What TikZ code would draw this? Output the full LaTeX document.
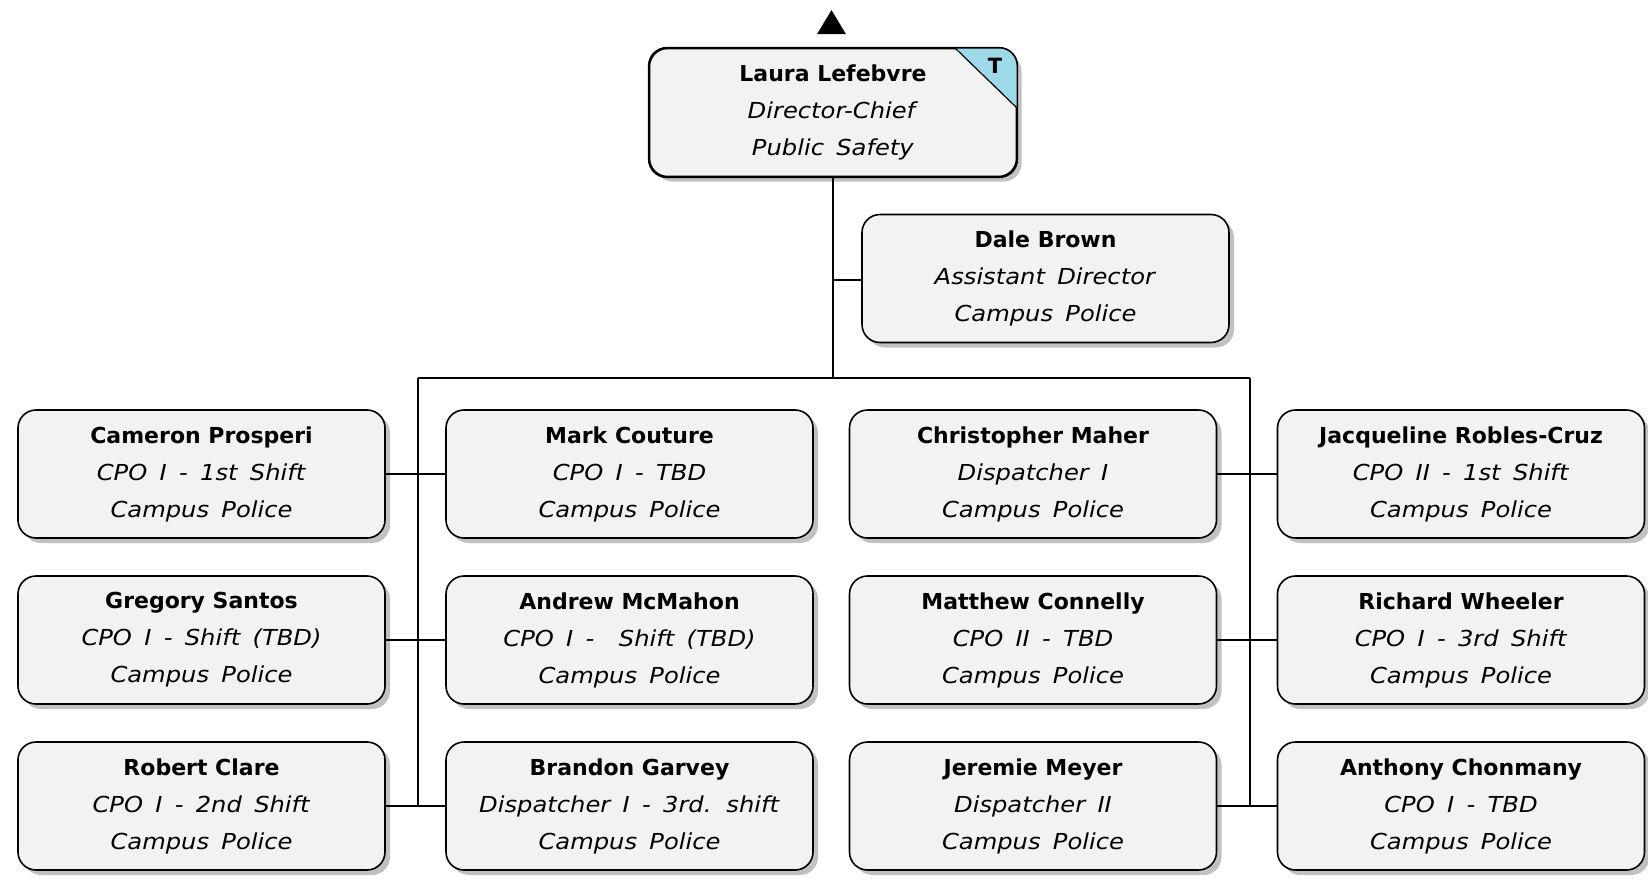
\documentclass[tikz,border=0pt]{standalone}
\usepackage{fontspec}
\setmainfont{DejaVu Sans}[ItalicFeatures={FakeStretch=1.1, WordSpace=1.6}]
\usetikzlibrary{shadows,shapes.geometric}
\definecolor{boxfill}{HTML}{F2F2F2}
\definecolor{tagblue}{HTML}{9ED9EA}
\tikzset{
  person/.style={draw=black, line width=1.6pt, fill=boxfill, rounded corners=18pt,
    minimum width=367pt, minimum height=128pt, inner sep=0pt, align=center,
    font=\fontsize{22}{37}\selectfont,
    drop shadow={shadow xshift=5pt, shadow yshift=-5pt, fill=black!35, opacity=0.7}},
  link/.style={line width=1.5pt, draw=black}
}
\newcommand{\entry}[3]{\textbf{#1}\\\textit{#2}\\\textit{#3}}
\begin{document}
\begin{tikzpicture}[x=1pt,y=-1pt]
\useasboundingbox (0,0) rectangle (1648,879);

% director
\node[person] (laura) at (833,112.5) {\entry{Laura Lefebvre}{Director-Chief}{Public Safety}};
\begin{scope}
  \clip[rounded corners=18pt] (laura.south west) rectangle (laura.north east);
  \fill[tagblue] (955,48) -- (1017,48) -- (1017,108) -- cycle;
\end{scope}
\draw[line width=1.2pt] (955,48) -- (1017,108);
\draw[line width=1.6pt, rounded corners=18pt] (laura.south west) rectangle (laura.north east);
\node[font=\fontsize{21}{21}\selectfont\bfseries] (tag) at (995,66) {T};
\node[fill=black, isosceles triangle, isosceles triangle apex angle=62, shape border rotate=90,
  inner sep=0pt, minimum width=29pt, minimum height=24pt] (up) at (831.5,26) {};

% assistant director
\node[person] (dale) at (1045.5,278.5) {\entry{Dale Brown}{Assistant Director}{Campus Police}};

% staff grid
\node[person] (p11) at (201.5,474) {\entry{Cameron Prosperi}{CPO I - 1st Shift}{Campus Police}};
\node[person] (p21) at (201.5,640) {\entry{Gregory Santos}{CPO I - Shift (TBD)}{Campus Police}};
\node[person] (p31) at (201.5,806) {\entry{Robert Clare}{CPO I - 2nd Shift}{Campus Police}};

\node[person] (p12) at (629.5,474) {\entry{Mark Couture}{CPO I - TBD}{Campus Police}};
\node[person] (p22) at (629.5,640) {\entry{Andrew McMahon}{CPO I -\ \ Shift (TBD)}{Campus Police}};
\node[person] (p32) at (629.5,806) {\entry{Brandon Garvey}{Dispatcher I - 3rd. shift}{Campus Police}};

\node[person] (p13) at (1033,474) {\entry{Christopher Maher}{Dispatcher I}{Campus Police}};
\node[person] (p23) at (1033,640) {\entry{Matthew Connelly}{CPO II - TBD}{Campus Police}};
\node[person] (p33) at (1033,806) {\entry{Jeremie Meyer}{Dispatcher II}{Campus Police}};

\node[person] (p14) at (1461,474) {\entry{Jacqueline Robles-Cruz}{CPO II - 1st Shift}{Campus Police}};
\node[person] (p24) at (1461,640) {\entry{Richard Wheeler}{CPO I - 3rd Shift}{Campus Police}};
\node[person] (p34) at (1461,806) {\entry{Anthony Chonmany}{CPO I - TBD}{Campus Police}};

% junction points
\coordinate (bus) at (833,378);
\coordinate (daleTap) at (833,280);
\coordinate (busL) at (418,378);
\coordinate (busR) at (1250,378);
\coordinate (endL) at (418,806);
\coordinate (endR) at (1250,806);

% connectors
\draw[link] (laura.south) -- (bus);
\draw[link] (daleTap) -- (dale.west |- daleTap);
\draw[link] (busL) -- (busR);
\draw[link] (busL) -- (endL);
\draw[link] (busR) -- (endR);
\foreach \r in {1,2,3}{
  \draw[link] (p\r1.east) -- (p\r2.west);
  \draw[link] (p\r3.east) -- (p\r4.west);
}
\end{tikzpicture}
\end{document}
